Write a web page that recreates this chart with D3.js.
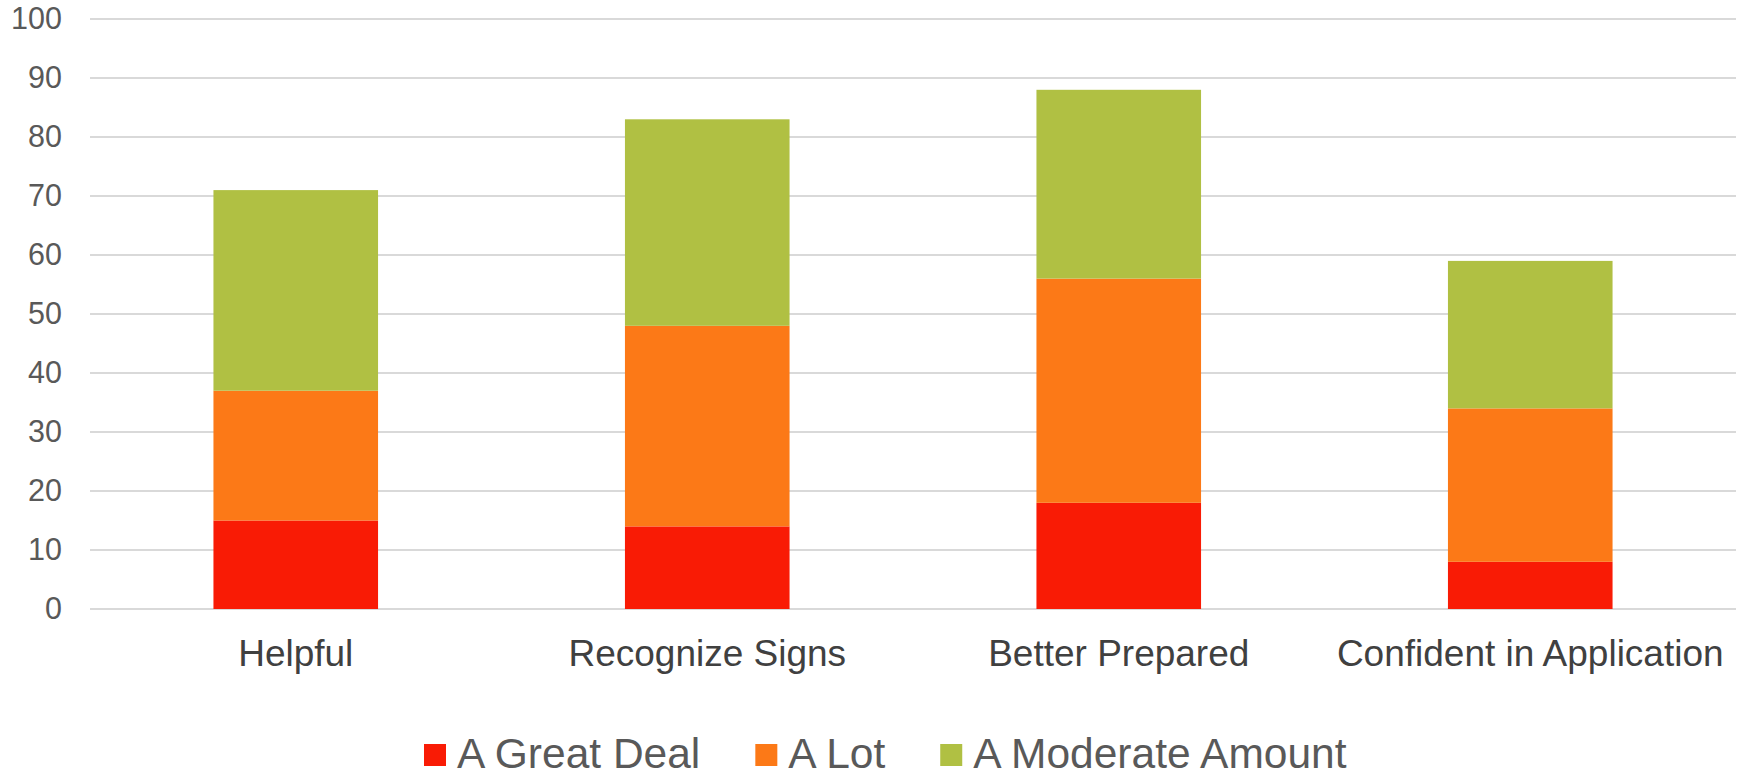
<!DOCTYPE html>
<html>
<head>
<meta charset="utf-8">
<script src="https://cdn.jsdelivr.net/npm/d3@7"></script>
<style>
  html, body { margin: 0; padding: 0; background: #fff; }
  svg { display: block; font-family: Arial, "Liberation Sans", sans-serif; }
</style>
</head>
<body>
<svg id="chart" width="1752" height="773"></svg>
<script>
const categories = ["Helpful", "Recognize Signs", "Better Prepared", "Confident in Application"];
const seriesNames = ["A Great Deal", "A Lot", "A Moderate Amount"];
const greatDeal = [15, 14, 18, 8];
const aLot = [22, 34, 38, 26];
const moderateAmount = [34, 35, 32, 25];
const yTicks = [0, 10, 20, 30, 40, 50, 60, 70, 80, 90, 100];
const colors = ["#F91B05", "#FC7917", "#B0C043"];

const svg = d3.select("#chart");
const margin = { left: 90, right: 16, top: 19, bottom: 164 };
const width = 1752, height = 773;

// rows for d3.stack
const rows = categories.map((c, i) => ({
  cat: c,
  [seriesNames[0]]: greatDeal[i],
  [seriesNames[1]]: aLot[i],
  [seriesNames[2]]: moderateAmount[i],
}));
const stacked = d3.stack().keys(seriesNames)(rows);

const x = d3.scaleBand()
  .domain(categories)
  .range([margin.left, width - margin.right])
  .paddingInner(0.6)
  .paddingOuter(0.3);

const y = d3.scaleLinear()
  .domain([0, 100])
  .range([height - margin.bottom, margin.top]);

// gridlines
svg.append("g")
  .selectAll("line")
  .data(yTicks)
  .enter()
  .append("line")
  .attr("x1", margin.left)
  .attr("x2", width - margin.right)
  .attr("y1", (d) => y(d))
  .attr("y2", (d) => y(d))
  .attr("stroke", "#D9D9D9")
  .attr("stroke-width", 2);

// y axis labels
const yAxis = svg.append("g")
  .attr("transform", `translate(${margin.left - 28},0)`)
  .call(d3.axisLeft(y).tickValues(yTicks).tickSize(0).tickPadding(0));
yAxis.select(".domain").remove();
yAxis.selectAll("text")
  .attr("font-size", 30.5)
  .attr("font-family", "Arial, 'Liberation Sans', sans-serif")
  .attr("fill", "#595959");

// bars
svg.append("g")
  .selectAll("g")
  .data(stacked)
  .enter()
  .append("g")
  .attr("fill", (d, i) => colors[i])
  .selectAll("rect")
  .data((d) => d)
  .enter()
  .append("rect")
  .attr("x", (d) => x(d.data.cat))
  .attr("width", x.bandwidth())
  .attr("y", (d) => y(d[1]))
  .attr("height", (d) => y(d[0]) - y(d[1]));

// category labels
const xAxis = svg.append("g")
  .attr("transform", `translate(0,${height - margin.bottom})`)
  .call(d3.axisBottom(x).tickSize(0).tickPadding(0));
xAxis.select(".domain").remove();
xAxis.selectAll("text")
  .attr("y", 57)
  .attr("dy", 0)
  .attr("font-size", 37)
  .attr("font-family", "Arial, 'Liberation Sans', sans-serif")
  .attr("fill", "#404040");

// legend (sits on the bottom edge, as in the original)
const legend = svg.append("g").attr("transform", "translate(424,744)");
let lx = 0;
seriesNames.forEach((name, i) => {
  const item = legend.append("g").attr("transform", `translate(${lx},0)`);
  item.append("rect")
    .attr("width", 22)
    .attr("height", 22)
    .attr("fill", colors[i]);
  const t = item.append("text")
    .attr("x", 33)
    .attr("y", 24)
    .attr("font-size", 42.5)
    .attr("fill", "#595959")
    .text(name);
  lx += 33 + t.node().getComputedTextLength() + 55;
});
</script>
</body>
</html>
